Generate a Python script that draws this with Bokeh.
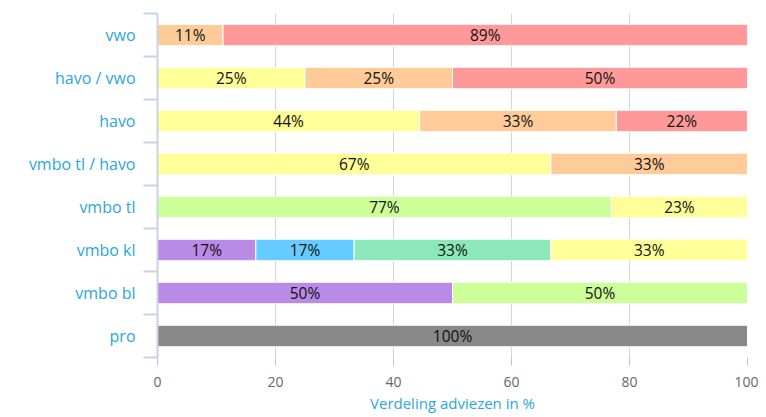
from bokeh.plotting import figure
from bokeh.models import (ColumnDataSource, Range1d, LinearAxis, FixedTicker)
from bokeh.core.properties import value
from bokeh.embed import file_html
from bokeh.resources import INLINE

categories = ["pro", "vmbo bl", "vmbo kl", "vmbo tl", "vmbo tl / havo",
              "havo", "havo / vwo", "vwo"]
s_pro     = [100, 0, 0, 0, 0, 0, 0, 0]
s_bl      = [0, 50, 16.67, 0, 0, 0, 0, 0]
s_kl      = [0, 0, 16.67, 0, 0, 0, 0, 0]
s_gt      = [0, 0, 33.33, 0, 0, 0, 0, 0]
s_tl      = [0, 50, 0, 76.92, 0, 0, 0, 0]
s_tlhavo  = [0, 0, 33.33, 23.08, 66.67, 44.44, 25, 0]
s_havo    = [0, 0, 0, 0, 33.33, 33.33, 25, 11.11]
s_vwo     = [0, 0, 0, 0, 0, 22.22, 50, 88.89]
x_ticks = [0, 20, 40, 60, 80, 100]

series_names = ["pro", "bl", "kl", "gt", "tl", "tlhavo", "havo", "vwo"]
series_vals = [s_pro, s_bl, s_kl, s_gt, s_tl, s_tlhavo, s_havo, s_vwo]
colors = ["#888888", "#b98ae6", "#66ccff", "#8ce8b8", "#ccff99",
          "#ffff99", "#ffcc99", "#ff9999"]

FONT = "Open Sans"
BLUE = "#2aa7dd"
AXC = "#c8d4e2"

n = len(categories)
ypos = [i + 0.5 for i in range(n)]   # category slots on the y scale

data = {"y": ypos}
for nm, v in zip(series_names, series_vals):
    data[nm] = v
source = ColumnDataSource(data)

p = figure(width=758, height=417, output_backend="svg", toolbar_location=None,
           x_range=Range1d(0, 100), y_range=Range1d(0, n),
           y_axis_location=None,
           min_border_left=157, min_border_right=11, min_border_top=13,
           min_border_bottom=60)
p.outline_line_color = None
p.background_fill_color = "white"

p.hbar_stack(series_names, y="y", height=0.5, color=colors, source=source,
             line_color="white", line_width=1)

# segment labels
lx, ly, lt = [], [], []
for i in range(n):
    left = 0
    for v in series_vals:
        val = v[i]
        if val > 0:
            lx.append(left + val / 2)
            ly.append(ypos[i])
            lt.append(f"{round(val)}%")
        left += val
p.text(x=lx, y=ly, text=lt, text_align="center", text_baseline="middle",
       text_font=value(FONT), text_font_size="15.5px", text_color="#111111")

# grid
p.xgrid.ticker = FixedTicker(ticks=x_ticks)
p.xgrid.grid_line_color = "#d4d4d4"
p.ygrid.grid_line_color = None

# x axis
xa = p.xaxis[0]
xa.ticker = FixedTicker(ticks=x_ticks)
xa.axis_line_color = None
xa.major_tick_out = 8
xa.major_tick_in = 0
xa.major_tick_line_color = "#c0c0c0"
xa.minor_tick_line_color = None
xa.major_label_text_color = "#666666"
xa.major_label_text_font = FONT
xa.major_label_text_font_size = "14px"
xa.major_label_standoff = 11
xa.axis_label = "Verdeling adviezen in %"
xa.axis_label_text_color = BLUE
xa.axis_label_text_font = FONT
xa.axis_label_text_font_size = "15px"
xa.axis_label_text_font_style = "normal"
xa.axis_label_standoff = 3

# y edge ticks axis (between categories)
edges = list(range(n + 1))
ea = LinearAxis(ticker=FixedTicker(ticks=edges))
ea.major_label_overrides = {e: "" for e in edges}
ea.major_label_text_font_size = "1px"
ea.major_label_standoff = 0
ea.axis_line_color = AXC
ea.axis_line_width = 2
ea.major_tick_line_color = AXC
ea.major_tick_line_width = 2
ea.major_tick_out = 14
ea.major_tick_in = 0
ea.minor_tick_line_color = None
p.add_layout(ea, "left")

# category labels axis
ca = LinearAxis(ticker=FixedTicker(ticks=ypos))
ca.major_label_overrides = {y: c for y, c in zip(ypos, categories)}
ca.axis_line_color = None
ca.major_tick_line_color = None
ca.minor_tick_line_color = None
ca.major_tick_out = 0
ca.major_tick_in = 0
ca.major_label_standoff = 8
ca.major_label_text_color = BLUE
ca.major_label_text_font = FONT
ca.major_label_text_font_size = "16px"
p.add_layout(ca, "left")

open("out.html", "w").write(file_html(p, INLINE))
